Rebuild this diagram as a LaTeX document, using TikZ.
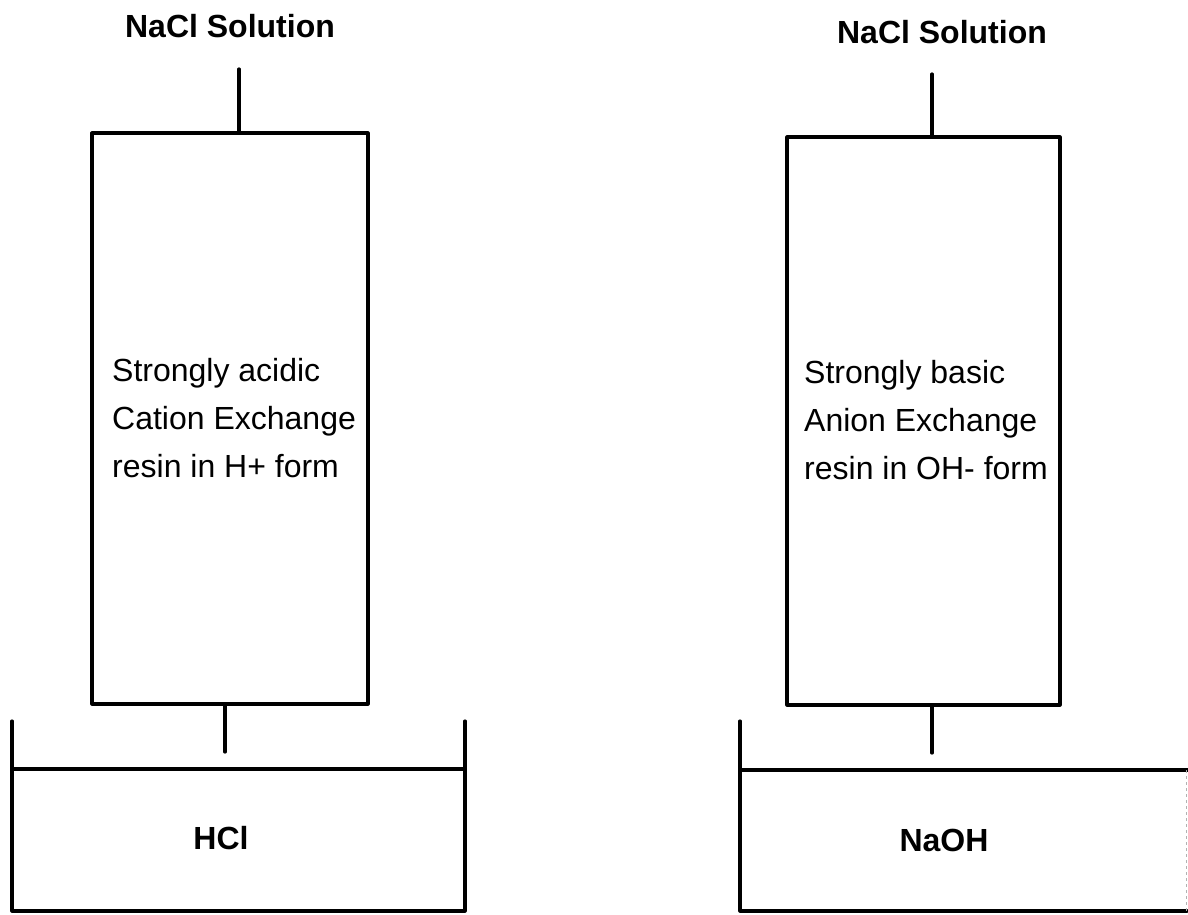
\documentclass[tikz,border=0pt]{standalone}
\usepackage{fontspec}
\setmainfont{Liberation Sans}
\begin{document}
\begin{tikzpicture}[x=1pt,y=-1pt,
  ln/.style={line width=3.2pt,line cap=round,line join=round},
  colbox/.style={draw,ln,rectangle,inner sep=0pt},
  lbl/.style={font=\fontsize{32}{38}\selectfont\bfseries,inner sep=0pt},
  body/.style={font=\fontsize{32}{48}\selectfont,align=left,inner sep=0pt,anchor=west}]
\useasboundingbox (0,0) rectangle (1188,914);
% left column
\node[lbl] (solA) at (230,26) {NaCl Solution};
\node[colbox,minimum width=276,minimum height=571] (colA) at (230,418.5) {};
\coordinate (inA) at (239,69);
\draw[ln] (inA) -- (inA |- colA.north);
\node[body] (txtA) at (112,418) {Strongly acidic\\Cation Exchange\\resin in H+ form};
\coordinate (outA) at (225,752);
\draw[ln] (outA |- colA.south) -- (outA);
% left beaker
\coordinate (bAtl) at (12,721);
\coordinate (bAtr) at (465,721);
\coordinate (bAbl) at (12,911);
\coordinate (bAbr) at (465,911);
\draw[ln] (bAtl) -- (bAbl) -- (bAbr) -- (bAtr);
\draw[ln] (12,769) -- (465,769);
\node[lbl] (prodA) at (221,838) {HCl};
% right column
\node[lbl] (solB) at (942,32) {NaCl Solution};
\node[colbox,minimum width=273,minimum height=568] (colB) at (923.5,421) {};
\coordinate (inB) at (932,74);
\draw[ln] (inB) -- (inB |- colB.north);
\node[body] (txtB) at (804,420) {Strongly basic\\Anion Exchange\\resin in OH- form};
\coordinate (outB) at (932,753);
\draw[ln] (outB |- colB.south) -- (outB);
% right beaker
\coordinate (bBtl) at (740,721);
\coordinate (bBbl) at (740,911);
\coordinate (bBbr) at (1187,911);
\draw[ln] (bBtl) -- (bBbl) -- (bBbr);
\draw[ln] (740,770) -- (1188,770);
\draw[line width=1pt,gray!60,dashed] (1186.5,770) -- (1186.5,911);
\node[lbl] (prodB) at (944,840) {NaOH};
\end{tikzpicture}
\end{document}
